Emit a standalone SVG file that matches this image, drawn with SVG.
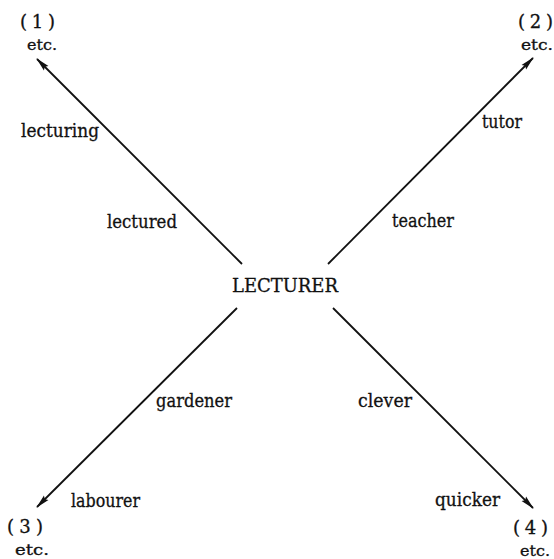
<svg xmlns="http://www.w3.org/2000/svg" width="554" height="559" viewBox="0 0 554 559">
<style>
text{font-family:"DejaVu Serif","Liberation Serif","Times New Roman",serif;font-size:18px;fill:#111;stroke:#111;stroke-width:0.3}
.s{font-size:15px}
.p{font-size:18px}
line{stroke:#111;stroke-width:1.8}
</style>
<defs>
<marker id="ah" viewBox="0 0 14 8" refX="13" refY="4" markerWidth="14" markerHeight="8" markerUnits="userSpaceOnUse" orient="auto">
<path d="M0,0.8 L14,4 L0,7.2 L2,4 Z" fill="#111"/>
</marker>
</defs>
<rect width="554" height="559" fill="#fff"/>
<g id="connectors">
<line x1="242" y1="264" x2="37" y2="59" marker-end="url(#ah)"/>
<line x1="328" y1="264" x2="533" y2="58" marker-end="url(#ah)"/>
<line x1="237" y1="308" x2="37" y2="507" marker-end="url(#ah)"/>
<line x1="333" y1="308" x2="533" y2="508" marker-end="url(#ah)"/>
</g>
<g id="center"><text x="232" y="292" textLength="106" lengthAdjust="spacingAndGlyphs">LECTURER</text></g>
<g id="n1"><text class="p" x="20" y="28" textLength="35" lengthAdjust="spacing">(1)</text><text class="s" x="27" y="50" textLength="30" lengthAdjust="spacingAndGlyphs">etc.</text></g>
<g id="n2"><text class="p" x="518" y="28" textLength="35" lengthAdjust="spacing">(2)</text><text class="s" x="521" y="50" textLength="32" lengthAdjust="spacingAndGlyphs">etc.</text></g>
<g id="n3"><text class="p" x="7" y="533" textLength="36" lengthAdjust="spacing">(3)</text><text class="s" x="15" y="555" textLength="34" lengthAdjust="spacingAndGlyphs">etc.</text></g>
<g id="n4"><text class="p" x="513" y="534" textLength="35" lengthAdjust="spacing">(4)</text><text class="s" x="520" y="556" textLength="30" lengthAdjust="spacingAndGlyphs">etc.</text></g>
<g id="labels">
<text x="21" y="137" textLength="78" lengthAdjust="spacingAndGlyphs">lecturing</text>
<text x="107" y="228" textLength="70" lengthAdjust="spacingAndGlyphs">lectured</text>
<text x="482" y="128" textLength="40" lengthAdjust="spacingAndGlyphs">tutor</text>
<text x="392" y="227" textLength="62" lengthAdjust="spacingAndGlyphs">teacher</text>
<text x="156" y="407" textLength="76" lengthAdjust="spacingAndGlyphs">gardener</text>
<text x="358" y="407" textLength="54" lengthAdjust="spacingAndGlyphs">clever</text>
<text x="71" y="507" textLength="69" lengthAdjust="spacingAndGlyphs">labourer</text>
<text x="435" y="506" textLength="65" lengthAdjust="spacingAndGlyphs">quicker</text>
</g>
</svg>
